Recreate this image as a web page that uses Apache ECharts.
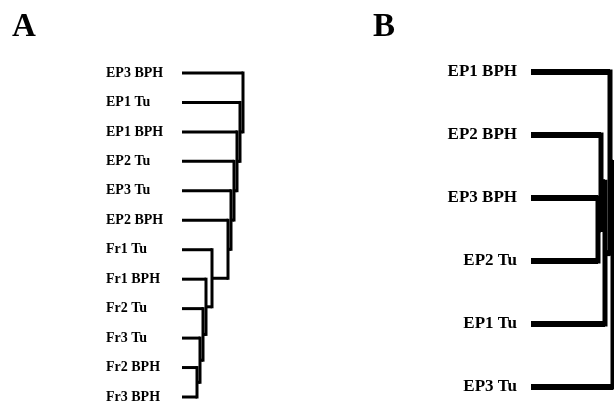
<!DOCTYPE html>
<html><head><meta charset="utf-8">
<script src="https://cdn.jsdelivr.net/npm/echarts@6/dist/echarts.min.js"></script>
<style>html,body{margin:0;padding:0;background:#fff}#c{width:614px;height:404px}</style>
</head><body><div id="c"></div>
<script>
// Panel A: leaf labels (top to bottom) and merges [childA, childB, height]
const leavesA = ['EP3 BPH','EP1 Tu','EP1 BPH','EP2 Tu','EP3 Tu','EP2 BPH','Fr1 Tu','Fr1 BPH','Fr2 Tu','Fr3 Tu','Fr2 BPH','Fr3 BPH'];
const mergesA = [[10,11,15],[9,12,18],[8,13,21],[7,14,24],[6,15,30],[5,16,46],[4,17,49],[3,18,52],[2,19,55],[1,20,58],[0,21,61]];
// Panel B
const leavesB = ['EP1 BPH','EP2 BPH','EP3 BPH','EP2 Tu','EP1 Tu','EP3 Tu'];
const mergesB = [[2,3,67],[1,6,70],[7,4,74],[0,8,79],[9,5,82]];

function segments(leaves, merges, leafW, vW, linkW){
  const n = leaves.length;
  const y = leaves.map((_,i)=>i), h = leaves.map(()=>0);
  const segs = [];
  merges.forEach(([a,b,hh], k) => {
    const id = n + k;
    y[id] = (y[a]+y[b])/2; h[id] = hh;
    [a,b].forEach(c => segs.push([h[c], y[c], hh, y[c], c < n ? leafW : linkW]));
    segs.push([hh, y[a], hh, y[b], vW]);
  });
  return segs;
}
function render(params, api){
  const x1 = api.value(0), y1 = api.value(1), x2 = api.value(2), y2 = api.value(3);
  const p1 = api.coord([x1, y1]), p2 = api.coord([x2, y2]);
  return {type:'line', shape:{x1:p1[0],y1:p1[1],x2:p2[0],y2:p2[1]},
    style:{stroke:'#000', lineWidth:api.value(4), lineCap: x1===x2 ? 'square' : 'butt'}};
}
const serif = '"Liberation Serif","Times New Roman",serif';
function yAx(idx, leaves, size, align, margin){
  return {gridIndex:idx, type:'value', min:0, max:leaves.length-1, interval:1, inverse:true,
    axisLine:{show:false}, axisTick:{show:false}, splitLine:{show:false},
    axisLabel:{formatter:v=>leaves[v]||'', color:'#000', fontFamily:serif, fontWeight:'bold',
      fontSize:size, align:align, margin:margin, showMinLabel:true, showMaxLabel:true}};
}
const chart = echarts.init(document.getElementById('c'), null, {renderer:'canvas'});
chart.setOption({
  backgroundColor:'#fff',
  animation:false,
  graphic:[
    {type:'text', left:12, top:11, style:{text:'A', font:'bold 33px '+serif, fill:'#000'}},
    {type:'text', left:373, top:11, style:{text:'B', font:'bold 33px '+serif, fill:'#000'}}
  ],
  grid:[
    {left:182, top:73, width:70, height:325},
    {left:531, top:72, width:83, height:315}
  ],
  xAxis:[
    {gridIndex:0, type:'value', min:0, max:70, show:false},
    {gridIndex:1, type:'value', min:0, max:83, show:false}
  ],
  yAxis:[ yAx(0, leavesA, 14, 'left', 76), yAx(1, leavesB, 17, 'right', 14) ],
  series:[
    {type:'custom', xAxisIndex:0, yAxisIndex:0, renderItem:render, encode:{x:[0,2], y:[1,3]},
      data:segments(leavesA, mergesA, 3, 3, 3)},
    {type:'custom', xAxisIndex:1, yAxisIndex:1, renderItem:render, encode:{x:[0,2], y:[1,3]},
      data:segments(leavesB, mergesB, 6, 5, 6)}
  ]
});
</script></body></html>
